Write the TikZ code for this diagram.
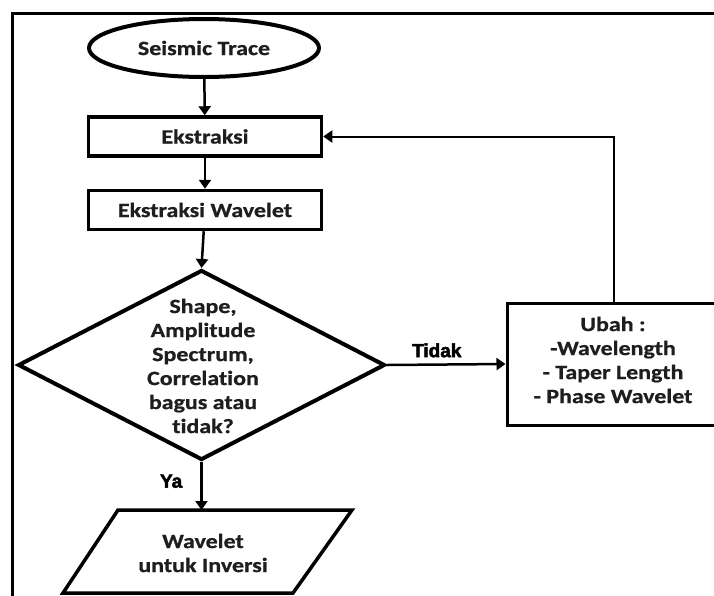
\documentclass[tikz,border=0pt]{standalone}
\usepackage{fontspec}
\usetikzlibrary{shapes.geometric,arrows.meta}
\newfontfamily\flowfont{Carlito}[FakeStretch=1.18, Ligatures=NoCommon, BoldFeatures={FakeBold=0.8}]
\newfontfamily\tagfont{Liberation Sans Bold}[FakeBold=2.5]
\definecolor{ink}{HTML}{1E1E1E}
\begin{document}
\begin{tikzpicture}[x=1pt,y=-1pt,
  flowtext/.style={font=\flowfont\bfseries\fontsize{20.3}{24}\selectfont, text=ink, align=center},
  stepbox/.style={draw, line width=3.5pt, minimum width=233pt, minimum height=39pt, inner sep=0pt, flowtext},
  conn/.style={line width=2.5pt, -{Triangle[length=9pt,width=12pt]}},
  tag/.style={font=\tagfont\fontsize{19}{22}\selectfont, text=black, inner sep=0pt}]
  \useasboundingbox (0,0) rectangle (714,595);
  \clip (0,0) rectangle (714,595);

  % outer frame (top and left edges)
  \draw[line width=3pt] (12,600) -- (12,13) -- (720,13);

  % flow nodes
  \node[draw, ellipse, line width=4pt, minimum width=230pt, minimum height=58pt, inner sep=0pt, flowtext]
    (trace) at (204,48) {Seismic Trace};
  \node[stepbox] (ek) at (205,136.5) {Ekstraksi};
  \node[stepbox] (ekw) at (205,210) {Ekstraksi Wavelet};
  \node[draw, diamond, line width=4pt, minimum width=367pt, minimum height=190pt, inner sep=0pt]
    (dia) at (201.5,365) {};
  \node[flowtext, inner sep=0pt] (diatext) at (203,366)
    {Shape,\\Amplitude\\Spectrum,\\Correlation\\bagus atau\\tidak?};

  % output parallelogram
  \coordinate (wavtop) at (205,510);
  \draw[line width=3.5pt, line join=miter] (118,510) -- (352,510) -- (293,593) -- (63,593) -- cycle;
  \node[flowtext, inner sep=0pt] (wavtext) at (203,553) {Wavelet\\untuk Inversi};

  \node[draw, line width=3pt, minimum width=213pt, minimum height=122pt, inner sep=0pt]
    (ubah) at (613.5,364) {};
  \node[flowtext, inner sep=0pt] (ubahtext) at (613,360)
    {Ubah :\\-Wavelength\\- Taper Length\\- Phase Wavelet};

  % connectors
  \draw[conn] (trace) -- (ek);
  \draw[conn] (ek) -- (ekw);
  \draw[conn] (ekw) -- (dia.north);
  \draw[conn] (dia.south) -- node[tag, left=18pt, pos=0.4] (ya) {Ya} (dia.south |- wavtop);
  \draw[conn] (dia.east) -- node[tag, above=6pt, pos=0.42] (tidak) {Tidak} (ubah.west);
  \draw[line width=2pt, -{Triangle[length=9pt,width=12pt]}] (ubah.north) |- (ek.east);
\end{tikzpicture}
\end{document}
